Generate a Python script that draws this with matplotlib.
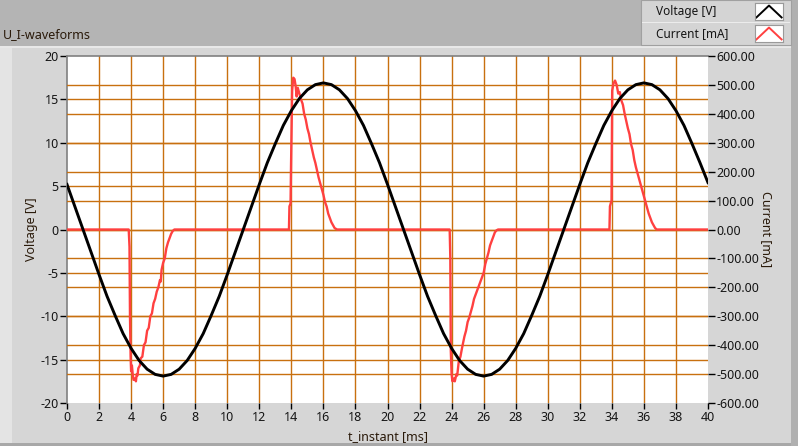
import numpy as np
import matplotlib.pyplot as plt
from matplotlib.patches import Rectangle

W, H = 798, 446


def fx(x):
    return x / W


def fy(y):
    return 1 - y / H


t_volt = np.arange(0, 40.5, 0.5)
voltage = [5.2, 2.6, 0.0, -2.6, -5.2, -7.7, -9.9, -12.0, -13.7, -15.1,
           -16.1, -16.7, -16.9, -16.7, -16.1, -15.1, -13.7, -12.0, -9.9, -7.7,
           -5.2, -2.6, 0.0, 2.6, 5.2, 7.7, 9.9, 12.0, 13.7, 15.1,
           16.1, 16.7, 16.9, 16.7, 16.1, 15.1, 13.7, 12.0, 9.9, 7.7,
           5.2, 2.6, 0.0, -2.6, -5.2, -7.7, -9.9, -12.0, -13.7, -15.1,
           -16.1, -16.7, -16.9, -16.7, -16.1, -15.1, -13.7, -12.0, -9.9, -7.7,
           -5.2, -2.6, 0.0, 2.6, 5.2, 7.7, 9.9, 12.0, 13.7, 15.1,
           16.1, 16.7, 16.9, 16.7, 16.1, 15.1, 13.7, 12.0, 9.9, 7.7, 5.4]

# current trace breakpoints [ms], [mA]
t_cur = [0, 3.85, 3.9, 3.93, 3.97, 4.0, 4.05, 4.1, 4.15, 4.25, 4.3, 4.35, 4.4, 4.45,
         4.55, 4.6, 4.7, 4.8, 4.9, 5.0, 5.1, 5.2, 5.3, 5.4, 5.5, 5.6, 5.7, 5.8,
         5.85, 5.9, 6.0, 6.1, 6.2, 6.3, 6.4, 6.5, 6.6, 6.7,
         13.85, 13.88, 13.95, 13.98, 14.05, 14.12, 14.2, 14.27, 14.33, 14.4, 14.5,
         14.6, 14.7, 14.8, 14.9, 15.0, 15.1, 15.2, 15.3, 15.4, 15.5, 15.6, 15.7,
         15.8, 15.9, 16.0, 16.1, 16.2, 16.3, 16.4, 16.5, 16.6, 16.7, 16.85,
         23.88, 23.92, 23.95, 24.0, 24.05, 24.15, 24.2, 24.3, 24.35, 24.45, 24.55,
         24.65, 24.8, 24.9, 25.0, 25.1, 25.2, 25.3, 25.4, 25.5, 25.6, 25.7, 25.8,
         25.9, 26.0, 26.1, 26.2, 26.3, 26.4, 26.5, 26.6, 26.7, 26.8, 26.9,
         33.85, 33.88, 33.98, 34.02, 34.1, 34.2, 34.3, 34.4, 34.5, 34.6, 34.7,
         34.8, 34.9, 35.0, 35.1, 35.2, 35.3, 35.4, 35.5, 35.6, 35.7, 35.8, 35.9,
         36.0, 36.1, 36.2, 36.3, 36.4, 36.5, 36.6, 36.7, 36.8, 40]
current = [0, 0, -60, -300, -440, -490, -470, -500, -520, -515, -525, -500, -505, -480,
           -470, -445, -440, -400, -390, -350, -340, -300, -290, -255, -240, -215, -200, -175,
           -180, -140, -115, -100, -65, -45, -30, -15, -5, 0,
           0, 80, 90, 220, 480, 525, 520, 495, 460, 490, 470,
           450, 435, 400, 380, 350, 330, 300, 275, 250, 230, 205, 180,
           160, 140, 120, 95, 80, 55, 40, 25, 15, 5, 0,
           0, -100, -420, -500, -525, -515, -525, -500, -505, -455, -440,
           -410, -370, -350, -320, -305, -285, -265, -240, -225, -210, -195, -180,
           -165, -150, -120, -100, -80, -55, -40, -25, -10, -3, 0,
           0, 80, 100, 480, 505, 515, 500, 470, 475, 445, 430,
           400, 375, 350, 330, 295, 275, 240, 215, 195, 175, 155, 135,
           115, 95, 75, 55, 40, 25, 15, 5, 0, 0]

volt_ticks = list(range(-20, 21, 5))
cur_ticks = list(range(-600, 601, 100))
time_ticks = list(range(0, 41, 2))

grid_c = '#c8700f'
txt_c = '#151515'
font = ['Noto Sans', 'DejaVu Sans']
plt.rcParams['font.family'] = font

fig = plt.figure(figsize=(W / 100, H / 100), dpi=100, facecolor='#d6d6d6')


def fig_rect(x, y, w, h, **kw):
    # rectangle in pixel units (top-left origin), drawn behind the axes
    r = Rectangle((fx(x), fy(y + h)), w / W, h / H, transform=fig.transFigure, zorder=-1, **kw)
    fig.add_artist(r)


# panel background pieces
fig_rect(0, 0, W, 46, fc='#b4b4b4', ec='none')
fig_rect(0, 46, 12, H - 46, fc='#e4e4e4', ec='none')
fig_rect(0, 46, W, 2, fc='#e8e8e8', ec='none')
fig_rect(0, H - 3, W, 3, fc='#a8a8a8', ec='none')
fig_rect(791, 0, 7, H, fc='#b0b0b0', ec='none')

fig.text(fx(3), fy(35), 'U_I-waveforms', fontsize=9, color='#2a1a0a', va='center', ha='left')

# legend block
fig_rect(641, 0, 150, 45, fc='#d4d4d4', ec='#a0a0a0', lw=0.8)
fig_rect(642, 22, 148, 1, fc='#ececec', ec='none')
fig.text(fx(656), fy(12), 'Voltage [V]', fontsize=8.5, color=txt_c, va='center')
fig.text(fx(656), fy(34), 'Current [mA]', fontsize=8.5, color=txt_c, va='center')
for y0, col in [(3, 'black'), (25, '#ff4040')]:
    ic = fig.add_axes([fx(755), fy(y0 + 17), 28 / W, 17 / H])
    ic.set_facecolor('white')
    ic.plot([0.05, 0.5, 0.95], [0.15, 0.85, 0.15], color=col, lw=1.4)
    ic.set_xlim(0, 1)
    ic.set_ylim(0, 1)
    ic.set_xticks([])
    ic.set_yticks([])
    for s in ic.spines.values():
        s.set_color('#9a9a9a')
        s.set_linewidth(0.8)

# main plot
ax = fig.add_axes([fx(67), fy(403), (708 - 67) / W, (403 - 56) / H])
ax.set_facecolor('white')
ax.set_xlim(0, 40)
ax.set_ylim(-20, 20)
ax.set_xticks(time_ticks)
ax.set_yticks(volt_ticks)
ax.set_xticklabels([str(v) for v in time_ticks])
ax.set_yticklabels([str(v) for v in volt_ticks])
ax.grid(True, color=grid_c, lw=1.0)
for gl in [ax.xaxis.get_gridlines()[0], ax.xaxis.get_gridlines()[-1],
           ax.yaxis.get_gridlines()[0], ax.yaxis.get_gridlines()[-1]]:
    gl.set_visible(False)
ax.tick_params(axis='both', direction='out', color='black', width=1,
               labelsize=9, labelcolor=txt_c)
ax.tick_params(axis='y', length=5, pad=1)
ax.tick_params(axis='x', length=4, pad=2)
for side in ['bottom', 'right']:
    ax.spines[side].set_visible(False)
for side in ['left', 'top']:
    ax.spines[side].set_color('#808080')
    ax.spines[side].set_linewidth(1.2)

ax2 = ax.twinx()
ax2.set_ylim(-600, 600)
ax2.set_yticks(cur_ticks)
ax2.set_yticklabels([f'{v:.2f}' for v in cur_ticks])
ax2.yaxis.grid(True, color=grid_c, lw=1.0)
ax2.yaxis.get_gridlines()[0].set_visible(False)
ax2.yaxis.get_gridlines()[-1].set_visible(False)
ax2.tick_params(axis='y', direction='out', length=5, pad=1, width=1, color='black',
                labelsize=9, labelcolor=txt_c)
for s in ax2.spines.values():
    s.set_visible(False)
ax2.plot(t_cur, current, color='#ff4040', lw=1.7)

ax3 = ax.twinx()
ax3.set_ylim(-20, 20)
ax3.set_yticks([])
for s in ax3.spines.values():
    s.set_visible(False)
ax3.plot(t_volt, voltage, color='black', lw=2.1)

fig.text(fx(31), fy(229), 'Voltage [V]', rotation=90, fontsize=9, color='#2a1a0a',
         va='center', ha='center')
fig.text(fx(766), fy(229), 'Current [mA]', rotation=270, fontsize=9, color='#2a1a0a',
         va='center', ha='center')
fig.text(fx(388), fy(437), 't_instant [ms]', fontsize=9, color='#2a1a0a',
         va='center', ha='center')

fig.savefig('out.png', dpi=100, facecolor=fig.get_facecolor())
